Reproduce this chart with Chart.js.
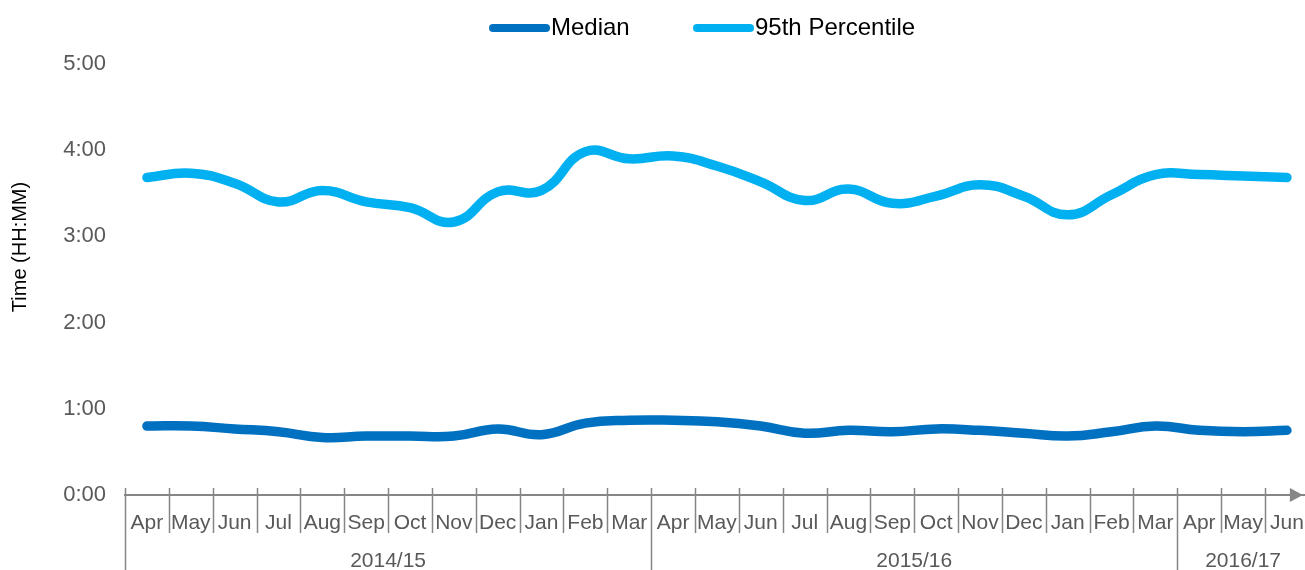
<!DOCTYPE html>
<html>
<head>
<meta charset="utf-8">
<script src="https://cdn.jsdelivr.net/npm/chart.js@4.4.1/dist/chart.umd.min.js"></script>
<style>
html, body { margin: 0; padding: 0; background: #fff; overflow: hidden; }
#wrap { width: 1305px; height: 570px; overflow: hidden; }
</style>
</head>
<body>
<div id="wrap"><canvas id="lineChart" width="1320" height="570"></canvas></div>
<script>
// months Apr 2014 .. Jun 2016
var months = ['Apr','May','Jun','Jul','Aug','Sep','Oct','Nov','Dec','Jan','Feb','Mar',
              'Apr','May','Jun','Jul','Aug','Sep','Oct','Nov','Dec','Jan','Feb','Mar',
              'Apr','May','Jun'];
var yearLabels = ['2014/15', '2015/16', '2016/17'];
var yearStarts = [0, 12, 24];

// values in minutes
var median = [48, 48, 46, 44, 40, 41, 41, 41, 46, 42, 50, 52,
              52, 51, 48, 43, 45, 44, 46, 45, 43, 41, 44, 48,
              45, 44, 45];
var pct95  = [221, 224, 217, 204, 212, 204, 200, 190, 211, 212, 239, 234,
              236, 229, 218, 205, 213, 203, 208, 216, 208, 195, 209, 223,
              223, 222, 221];
var yTicks = [0, 60, 120, 180, 240, 300];

var FONT = "'Liberation Sans', Arial, sans-serif";
var GREY = '#595959';
var AXIS = '#868686';

function hhmm(v){
    var m = Math.round(v);
    var mm = m % 60;
    return Math.floor(m / 60) + ':' + (mm < 10 ? '0' : '') + mm;
}

var legendItems = [
    {label: 'Median', color: '#0070C0', x: 493},
    {label: '95th Percentile', color: '#00B0F0', x: 697}
];

var extrasPlugin = {
    id: 'extras',
    afterDraw: function(chart){
        var ctx = chart.ctx;
        var xs = chart.scales.x;
        var band = xs.getPixelForValue(1) - xs.getPixelForValue(0);
        var axisY = xs.top;
        ctx.save();

        // category separators
        ctx.strokeStyle = AXIS;
        ctx.lineWidth = 1.5;
        for (var i = 0; i <= months.length; i++) {
            var px = Math.round(xs.getPixelForValue(i) - band / 2) + 0.5;
            var isYear = yearStarts.indexOf(i) >= 0;
            ctx.beginPath();
            ctx.moveTo(px, axisY - 7);
            ctx.lineTo(px, isYear ? chart.height : axisY + 38);
            ctx.stroke();
        }

        // arrow at axis end
        var tip = xs.right - 6;
        ctx.fillStyle = AXIS;
        ctx.beginPath();
        ctx.moveTo(tip, axisY);
        ctx.lineTo(tip - 13, axisY - 7);
        ctx.lineTo(tip - 13, axisY + 7);
        ctx.closePath();
        ctx.fill();

        // year group labels
        ctx.fillStyle = GREY;
        ctx.font = '21px ' + FONT;
        ctx.textAlign = 'center';
        ctx.textBaseline = 'middle';
        for (var j = 0; j < yearLabels.length; j++) {
            var a = yearStarts[j];
            var b = j + 1 < yearStarts.length ? yearStarts[j + 1] : months.length;
            var cx = (xs.getPixelForValue(a) + xs.getPixelForValue(b - 1)) / 2;
            ctx.fillText(yearLabels[j], cx, axisY + 66);
        }

        // y axis title
        ctx.fillStyle = '#000';
        ctx.font = '20px ' + FONT;
        ctx.translate(20, 247);
        ctx.rotate(-Math.PI / 2);
        ctx.fillText('Time (HH:MM)', 0, 0);
        ctx.restore();

        // legend
        ctx.save();
        ctx.font = '24px ' + FONT;
        ctx.textAlign = 'left';
        ctx.textBaseline = 'middle';
        ctx.lineCap = 'round';
        legendItems.forEach(function(it){
            ctx.strokeStyle = it.color;
            ctx.lineWidth = 8;
            ctx.beginPath();
            ctx.moveTo(it.x, 28);
            ctx.lineTo(it.x + 53, 28);
            ctx.stroke();
            ctx.fillStyle = '#000';
            ctx.fillText(it.label, it.x + 58, 28);
        });
        ctx.restore();
    }
};

var lineChartCanvas = document.getElementById('lineChart').getContext('2d');
var lineChart = new Chart(lineChartCanvas, {
    type: 'line',
    data: {
        labels: months,
        datasets: [
            {label: 'Median', data: median, borderColor: '#0070C0', borderWidth: 9.5,
             tension: 0.45, pointRadius: 0, borderCapStyle: 'round', borderJoinStyle: 'round', fill: false},
            {label: '95th Percentile', data: pct95, borderColor: '#00B0F0', borderWidth: 9.5,
             tension: 0.45, pointRadius: 0, borderCapStyle: 'round', borderJoinStyle: 'round', fill: false}
        ]
    },
    options: {
        responsive: false,
        animation: false,
        devicePixelRatio: 1,
        layout: {autoPadding: false, padding: {top: 64, right: 7, left: 0, bottom: 0}},
        plugins: {legend: {display: false}, tooltip: {enabled: false}},
        scales: {
            x: {
                type: 'category',
                offset: true,
                grid: {display: false, drawTicks: false},
                border: {display: true, color: AXIS, width: 2},
                ticks: {color: GREY, font: {family: FONT, size: 21}, padding: 16, maxRotation: 0, autoSkip: false},
                afterFit: function(s){ s.height = 75; }
            },
            y: {
                min: 0,
                max: 300,
                grid: {display: false, drawTicks: false},
                border: {display: false},
                afterBuildTicks: function(s){ s.ticks = yTicks.map(function(v){ return {value: v}; }); },
                ticks: {color: GREY, font: {family: FONT, size: 22}, padding: 19, callback: hhmm},
                afterFit: function(s){ s.width = 125; }
            }
        }
    },
    plugins: [extrasPlugin]
});
</script>
</body>
</html>
